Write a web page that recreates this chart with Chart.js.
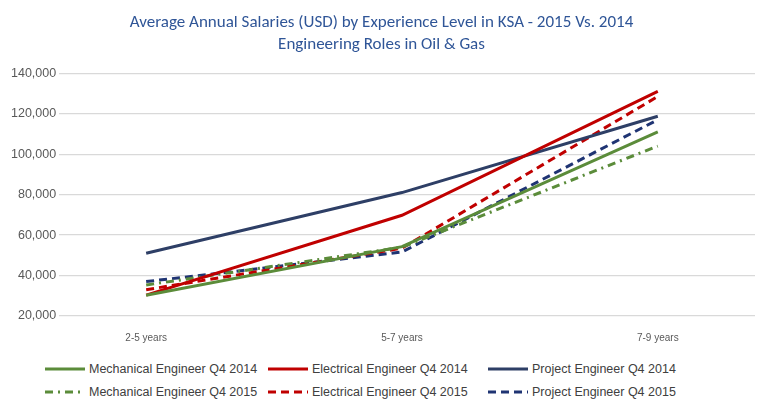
<!DOCTYPE html>
<html><head><meta charset="utf-8">
<script src="https://cdn.jsdelivr.net/npm/chart.js@4"></script>
<style>
body{margin:0;background:#fff;font-family:Calibri,"Carlito","Liberation Sans",sans-serif;}
#wrap{position:relative;width:765px;height:415px;}
#c{position:absolute;left:0;top:0;}
#leg{position:absolute;left:0;top:362px;width:765px;font-size:12.5px;color:#404040;font-family:"Liberation Sans",sans-serif;}
.it{position:absolute;display:flex;align-items:center;white-space:nowrap;}
.it svg{margin-right:4px;}
</style></head><body>
<div id="wrap"><canvas id="c" width="765" height="352"></canvas><div id="leg"></div></div>
<script>
const categories = ["2-5 years","5-7 years","7-9 years"];
const mech2014 = [30300, 54300, 111000];
const elec2014 = [30300, 69800, 131000];
const proj2014 = [51000, 81000, 118700];
const mech2015 = [35300, 54000, 104000];
const elec2015 = [33000, 53500, 128500];
const proj2015 = [37000, 51600, 117000];
const seriesNames = ["Mechanical Engineer Q4 2014","Electrical Engineer Q4 2014","Project Engineer Q4 2014","Mechanical Engineer Q4 2015","Electrical Engineer Q4 2015","Project Engineer Q4 2015"];
const seriesData = [mech2014, elec2014, proj2014, mech2015, elec2015, proj2015];
const colors = ["#5B8C3A","#C00000","#2E3F66","#5B8C3A","#C00000","#1F3473"];
const dashes = [[],[],[],[8,5,2,5],[8,5],[8,5]];

const datasets = seriesData.map((d,i)=>({
  label: seriesNames[i],
  data: d.map((v,j)=>({x:j,y:v})),
  borderColor: colors[i], borderWidth: 3, borderDash: dashes[i],
  pointRadius: 0, fill:false, tension:0
}));
new Chart(document.getElementById('c'),{
  type:'line', data:{datasets},
  options:{responsive:false, animation:false,
    layout:{padding:{left:8,right:10,top:0,bottom:0}},
    plugins:{legend:{display:false},
      title:{display:true,text:["Average Annual Salaries (USD) by Experience Level in KSA - 2015 Vs. 2014","Engineering Roles in Oil & Gas"],
        color:"#2F5597",font:{size:17,family:"Calibri, Carlito, 'Liberation Sans', sans-serif",weight:'normal',lineHeight:1.3},padding:{top:12,bottom:17}}},
    scales:{
      x:{type:'linear',min:-0.34,max:2.38,
        afterBuildTicks:(s)=>{s.ticks=categories.map((c,i)=>({value:i}));},
        ticks:{callback:(v)=>categories[v]??'',color:'#595959',font:{size:10},autoSkip:false,maxRotation:0,padding:8},
        grid:{display:false},border:{display:false}},
      y:{min:20000,max:140000,
        ticks:{stepSize:20000,color:'#595959',font:{size:12.5},callback:v=>v.toLocaleString('en-US')},
        grid:{color:'#D9D9D9',lineWidth:1.2,drawTicks:false},border:{display:false}}
    }}
});
const leg=document.getElementById('leg');
const lx=[45,268,488], ly=[0,23];
seriesNames.forEach((n,i)=>{
  const d=document.createElement('div'); d.className='it';
  d.style.left=lx[i%3]+'px'; d.style.top=ly[Math.floor(i/3)]+'px';
  d.innerHTML=`<svg width="40" height="6"><line x1="0" y1="3" x2="40" y2="3" stroke="${colors[i]}" stroke-width="3" stroke-dasharray="${dashes[i].join(',')||'none'}"/></svg>${n}`;
  leg.appendChild(d);
});
</script></body></html>
